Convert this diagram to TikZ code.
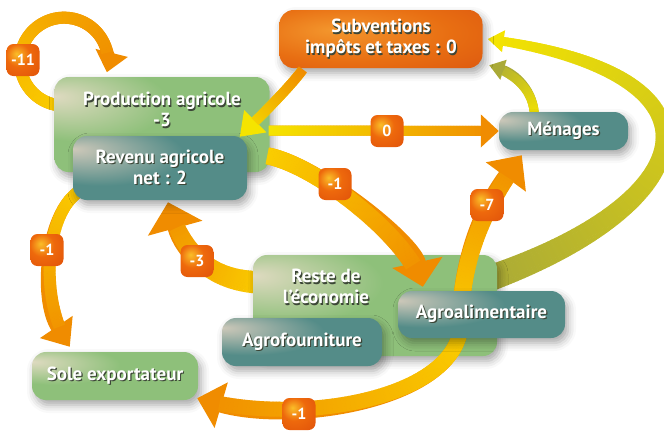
\documentclass[tikz,border=0pt]{standalone}
\usepackage{fontspec}
\setmainfont{PT Sans}
\usetikzlibrary{positioning, arrows.meta, calc, decorations.markings, shadows.blur}

\definecolor{flowyel}{RGB}{250,205,0}
\definecolor{flowlemon}{RGB}{245,228,0}
\definecolor{floworg}{RGB}{240,140,0}
\definecolor{flowolive}{RGB}{170,170,55}
\definecolor{greenhi}{RGB}{222,218,192}
\definecolor{greenbase}{RGB}{142,192,122}
\definecolor{greenedge}{RGB}{132,160,98}
\definecolor{tealhi}{RGB}{205,200,185}
\definecolor{tealbase}{RGB}{84,140,136}
\definecolor{tealedge}{RGB}{70,115,105}
\definecolor{orghi}{RGB}{243,150,45}
\definecolor{orgbase}{RGB}{232,110,18}
\definecolor{orgedge}{RGB}{214,75,14}
\definecolor{badgehi}{RGB}{250,190,40}
\definecolor{badgebase}{RGB}{238,105,12}
\definecolor{badgeedge}{RGB}{220,75,10}
\definecolor{txtshadow}{RGB}{60,70,55}

\pgfdeclareradialshading{greenglow}{\pgfpoint{-25bp}{15bp}}{color(0bp)=(greenhi); color(20bp)=(greenbase); color(45bp)=(greenbase); color(75bp)=(greenedge)}
\pgfdeclareradialshading{tealglow}{\pgfpoint{-25bp}{15bp}}{color(0bp)=(tealhi); color(24bp)=(tealbase); color(45bp)=(tealbase); color(75bp)=(tealedge)}
\pgfdeclareradialshading{orgglow}{\pgfpoint{-12bp}{8bp}}{color(0bp)=(orghi); color(25bp)=(orgbase); color(55bp)=(orgedge); color(75bp)=(orgedge)}
\pgfdeclareradialshading{badgeglow}{\pgfpoint{-10bp}{10bp}}{color(0bp)=(badgehi); color(18bp)=(badgebase); color(50bp)=(badgeedge); color(75bp)=(badgeedge)}

\pgfdeclarelayer{back}
\pgfsetlayers{back,main}

\newcommand{\boxfont}{\bfseries\fontsize{19}{21}\selectfont}
\newcommand{\badgefont}{\bfseries\fontsize{16}{18}\selectfont}
\newcommand{\shtext}[1]{\leavevmode\rlap{\hspace{1.2pt}\raisebox{-1.4pt}{\textcolor{txtshadow}{#1}}}#1}
\def\flowtaper{0pt}
\newcommand{\flowpiece}[2]{%
  \pgfmathsetmacro\flowpct{\pgfkeysvalueof{/pgf/decoration/mark info/distance from start}/\pgfdecoratedpathlength*100}%
  \pgfmathsetlengthmacro\flowlw{\pgflinewidth+\flowtaper*(1-\flowpct/100)}%
  \draw[-, line cap=butt, line width=\flowlw, draw=#2!\flowpct!#1] (-1pt,0) -- (1pt,0);}

\tikzset{
  boxtext/.style={text=white, font=\boxfont, align=center, inner sep=0pt},
  shadowed/.style={blur shadow={shadow xshift=3pt, shadow yshift=-5pt, shadow blur radius=8pt, shadow opacity=35}},
  gbox/.style={rounded corners=14pt, shade, shading=greenglow, shadowed, boxtext},
  tbox/.style={rounded corners=14pt, shade, shading=tealglow, shadowed, boxtext},
  obox/.style={rounded corners=14pt, shade, shading=orgglow, shadowed, boxtext},
  badge/.style={rounded corners=7pt, shade, shading=badgeglow, minimum width=33pt, minimum height=32pt,
    inner sep=0pt, text=white, font=\badgefont},
  taper/.code={\def\flowtaper{#1}},
  % start colour, end colour, head width, head length
  flow/.style n args={4}{draw=#2, line cap=butt, -{Triangle[width=#3, length=#4]},
    postaction={decorate, decoration={markings,
      mark=between positions 0 and -#4 step 1.5pt with {\flowpiece{#1}{#2}}}}},
}

\begin{document}
\begin{tikzpicture}[x=1pt, y=-1pt]
  \useasboundingbox (0,0) rectangle (664,432);
  % Boxes
  \node[obox, minimum width=203pt, minimum height=58pt] (subv) at (381,39)
    {\shtext{Subventions}\\\shtext{impôts et taxes : 0}};
  \node[gbox, minimum width=215pt, minimum height=95pt] (prod) at (162,124.5) {};
  \node[boxtext] (prodtxt) at ([yshift=14pt]prod.center) {\shtext{Production agricole}\\\shtext{-3}};
  \node[tbox, minimum width=174pt, minimum height=64pt] (rev) at (160,168)
    {\shtext{Revenu agricole}\\\shtext{net : 2}};
  \node[tbox, minimum width=129pt, minimum height=38pt] (men) at (563.5,131) {\shtext{Ménages}};
  \node[gbox, minimum width=166pt, minimum height=48pt] (sole) at (115,376) {\shtext{Sole exportateur}};
  \node[gbox, minimum width=244pt, minimum height=101pt] (reste) at (375,305.5) {};
  \node[boxtext] (restetxt) at ([shift={(-49,-18)}]reste.center) {\shtext{Reste de}\\\shtext{l’économie}};
  \coordinate (agrosrc) at ([shift={(85,27)}]reste.center);

  % Flows over the rest of the economy, under the agrifood box
  \draw[flow={flowyel}{floworg}{48pt}{27pt}, line width=17pt]
    (agrosrc) .. controls +(0,-65) and +(-44,60) .. ([shift={(23,5)}]men.south west);
  \draw[flow={flowyel}{floworg}{46pt}{25pt}, line width=15pt]
    (agrosrc) .. controls +(-15,70) and +(93,27) .. ([shift={(-1,-2)}]sole.south east);

  \node[tbox, minimum width=167pt, minimum height=47pt] (agroal) at (481.5,314.5) {\shtext{Agroalimentaire}};
  \node[tbox, minimum width=160pt, minimum height=48pt] (agrof) at (302,342) {\shtext{Agrofourniture}};

  % Flows behind the boxes
  \begin{pgfonlayer}{back}
    \draw[flow={flowyel}{floworg}{32pt}{20pt}, line width=12pt]
      ([shift={(6,-19)}]prod.west) arc[start angle=95, end angle=374, radius=44];
    \draw[flow={flowolive}{flowlemon}{21pt}{16pt}, line width=8pt, taper=18pt]
      ([shift={(110,-25.5)}]reste.center) .. controls +(215,-75) and +(257.5,36) .. ([xshift=5pt]subv.east);
    \draw[flow={flowyel}{floworg}{55pt}{27pt}, line width=15pt, taper=8pt]
      ([shift={(-110,-23)}]reste.center) .. controls +(-55,0) and +(14,51) .. ([shift={(8,2)}]rev.south);
    \draw[flow={flowyel}{floworg}{38pt}{24pt}, line width=12pt]
      ([shift={(12,-12)}]rev.south west) .. controls +(-40,17) and +(-32,-47) .. ([shift={(38,-5)}]sole.north west);
    \draw[flow={flowlemon}{flowolive}{20pt}{15pt}, line width=9pt]
      ([shift={(-29,6)}]men.north) .. controls +(0,-28) and +(25,8) .. ([shift={(6.5,-3)}]subv.south east);
  \end{pgfonlayer}
  % Flows in front
  \draw[flow={floworg}{flowlemon}{30pt}{22pt}, line width=10pt]
    ([shift={(23,2)}]subv.south west) .. controls +(-15,20) and +(18,-18) .. ([shift={(-30,60)}]prod.north east);
  \draw[flow={flowlemon}{floworg}{32pt}{18pt}, line width=10pt]
    ([yshift=-6pt]prod.east) -- (men.west);
  \draw[flow={flowyel}{floworg}{50pt}{25pt}, line width=17pt]
    ([shift={(-1.5,31.5)}]prod.east) .. controls +(50,10) and +(-10,-45) .. ([shift={(25,-4)}]agroal.north west);

  % Badges
  \node[badge] (b11) at (23,60) {-11};
  \node[badge] (b0) at (387,131) {0};
  \node[badge] (b1a) at (335,184) {-1};
  \node[badge] (b7) at (487,205) {-7};
  \node[badge] (b3) at (197,261) {-3};
  \node[badge] (b1b) at (47,250) {-1};
  \node[badge] (b1c) at (299,414) {-1};
\end{tikzpicture}
\end{document}
